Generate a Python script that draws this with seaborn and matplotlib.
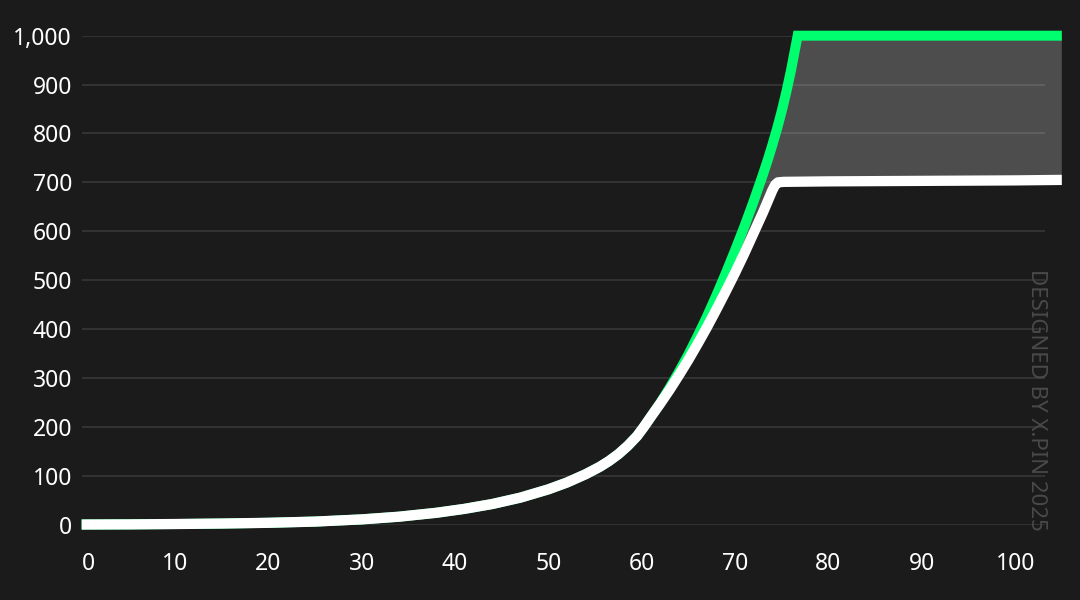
import numpy as np
import pandas as pd
import matplotlib
matplotlib.use("Agg")
import matplotlib.pyplot as plt
from matplotlib.ticker import FuncFormatter
import seaborn as sns

# white series (lower curve, levels off near 700)
x_white = [0, 5, 10, 15, 20, 25, 30, 34, 38, 41, 44, 47, 50, 52, 54, 55.5, 56.5, 57.5,
           58.5, 59.5, 60.2, 61, 62, 63, 64, 65, 66, 67, 68, 69, 70, 71, 72, 73,
           73.6, 74.0, 74.3, 74.6, 75.2, 80, 90, 100, 105]
y_white = [0, 0.3, 1, 2, 3.5, 6, 10.5, 16, 24, 32, 42, 55, 72, 86, 103, 118, 130, 144,
           161, 181, 199, 221, 248, 276, 306, 337, 370, 404, 440, 477, 515, 555, 597, 639,
           666, 684, 695, 700, 701, 702, 703, 704, 705]

# green series (upper curve, levels off at 1000)
x_green = [0, 5, 10, 15, 20, 25, 30, 34, 38, 41, 44, 47, 50, 52, 54, 55.5, 56.5, 57.5,
           58.5, 59.5, 60.2, 61, 62, 63, 64, 65, 66, 67, 68, 69, 70, 71, 72, 73,
           73.5, 74, 74.5, 75, 75.5, 76, 76.35, 76.7, 80, 90, 100, 105]
y_green = [0, 0.3, 1, 2, 3.5, 6, 10.5, 16, 24, 32, 42, 55, 72, 86, 103, 118, 130, 144,
           161, 181, 199, 221, 249, 280, 313, 348, 386, 426, 469, 514, 561, 610, 662, 717,
           746, 777, 810, 846, 886, 930, 965, 1000, 1000, 1000, 1000, 1000]

x_ticks = list(range(0, 101, 10))
y_ticks = list(range(0, 1001, 100))

bg = "#1b1b1b"
sns.set_theme(style="dark", rc={
    "figure.facecolor": bg,
    "axes.facecolor": bg,
    "axes.grid": True,
    "grid.color": "#3a3a3a",
    "grid.linewidth": 1.1,
})
plt.rcParams["font.family"] = ["Noto Sans", "DejaVu Sans"]

fig = plt.figure(figsize=(10.8, 6), dpi=100)
ax = fig.add_axes([0.0756, 0.1258, 0.892, 0.8147])

df_w = pd.DataFrame({"x": x_white, "y": y_white})
df_g = pd.DataFrame({"x": x_green, "y": y_green})

# grey band between the two curves
ax.fill(np.concatenate([df_g.x.values, df_w.x.values[::-1]]),
        np.concatenate([df_g.y.values, df_w.y.values[::-1]]),
        color="white", alpha=0.22, lw=0, zorder=1, clip_on=False)

sns.lineplot(data=df_g, x="x", y="y", sort=False, color="#00ff6e", linewidth=7.2,
             solid_joinstyle="miter", solid_capstyle="butt", clip_on=False,
             zorder=3, ax=ax)
sns.lineplot(data=df_w, x="x", y="y", sort=False, color="white", linewidth=7.4,
             solid_joinstyle="round", solid_capstyle="butt", clip_on=False,
             zorder=4, ax=ax)

ax.set_xlim(0, 103.2)
ax.set_ylim(0, 1000)
ax.set_xticks(x_ticks)
ax.set_yticks(y_ticks)
ax.yaxis.set_major_formatter(FuncFormatter(lambda v, p: f"{int(v):,}"))
ax.xaxis.grid(False)
ax.set_xlabel("")
ax.set_ylabel("")
for s in ax.spines.values():
    s.set_visible(False)
ax.tick_params(axis="x", length=0, pad=20, labelsize=16.5, labelcolor="white")
ax.tick_params(axis="y", length=0, pad=7, labelsize=16.5, labelcolor="white")
ax.get_xticklabels()[0].set_ha("left")

fig.text(0.9597, 0.333, "DESIGNED BY X.PIN 2025", rotation=-90, color="#4a4a4a",
         fontsize=16, ha="center", va="center")

fig.savefig("out.png", dpi=100, facecolor=bg)
